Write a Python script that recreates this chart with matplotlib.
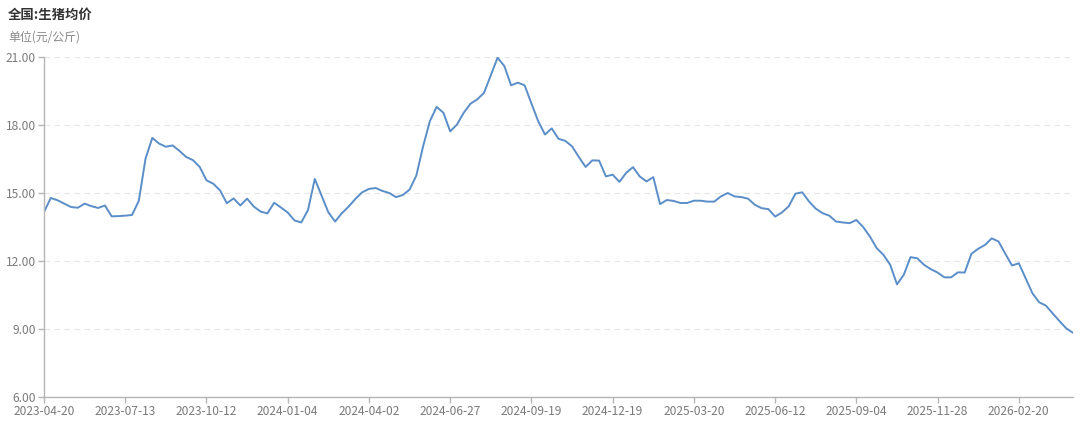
import matplotlib
matplotlib.use("Agg")
import matplotlib.pyplot as plt
from matplotlib.ticker import FixedLocator, FuncFormatter

plt.rcParams['font.family'] = ['Noto Sans CJK SC', 'DejaVu Sans']

title = "全国:生猪均价"
unit_label = "单位(元/公斤)"

tick_labels = ["2023-04-20", "2023-07-13", "2023-10-12", "2024-01-04",
               "2024-04-02", "2024-06-27", "2024-09-19", "2024-12-19",
               "2025-03-20", "2025-06-12", "2025-09-04", "2025-11-28",
               "2026-02-20"]
tick_step = 12

prices = [
    14.16, 14.78, 14.68, 14.53, 14.38, 14.35, 14.53, 14.42, 14.34, 14.45,
    13.97, 13.98, 14.00, 14.03, 14.65, 16.52, 17.43, 17.18, 17.04, 17.10,
    16.86, 16.59, 16.45, 16.15, 15.56, 15.41, 15.12, 14.55, 14.76, 14.45,
    14.75, 14.40, 14.18, 14.10, 14.57, 14.36, 14.14, 13.79, 13.70, 14.25,
    15.62, 14.88, 14.15, 13.74, 14.11, 14.40, 14.74, 15.03, 15.18, 15.22,
    15.09, 15.00, 14.82, 14.91, 15.15, 15.77, 17.06, 18.17, 18.80, 18.54,
    17.72, 18.02, 18.54, 18.94, 19.13, 19.42, 20.19, 20.97, 20.60, 19.75,
    19.87, 19.75, 18.95, 18.17, 17.58, 17.85, 17.39, 17.30, 17.06, 16.59,
    16.15, 16.44, 16.43, 15.73, 15.81, 15.49, 15.89, 16.14, 15.73, 15.51,
    15.70, 14.51, 14.69, 14.65, 14.56, 14.56, 14.66, 14.66, 14.62, 14.62,
    14.85, 15.00, 14.85, 14.82, 14.75, 14.48, 14.33, 14.29, 13.96, 14.14,
    14.41, 14.97, 15.03, 14.63, 14.31, 14.11, 14.00, 13.74, 13.70, 13.67,
    13.81, 13.50, 13.08, 12.57, 12.27, 11.83, 10.97, 11.39, 12.17, 12.12,
    11.83, 11.64, 11.49, 11.28, 11.28, 11.50, 11.49, 12.32, 12.54, 12.71,
    13.00, 12.86, 12.32, 11.80, 11.90, 11.24, 10.58, 10.18, 10.03, 9.69,
    9.35, 9.03, 8.83,
]

y_ticks = [6, 9, 12, 15, 18, 21]

fig = plt.figure(figsize=(10.8, 4.3), dpi=100)
ax = fig.add_axes([44 / 1080, 1 - 397 / 430, (1073 - 44) / 1080, (397 - 57) / 430])

x = list(range(len(prices)))
ax.plot(x, prices, color="#5b8ec8", linewidth=1.4, solid_joinstyle="round")

ax.set_xlim(0, len(prices) - 1)
ax.set_ylim(6, 21)

tick_pos = [i * tick_step for i in range(len(tick_labels))]
ax.xaxis.set_major_locator(FixedLocator(tick_pos))
ax.set_xticklabels(tick_labels)
ax.yaxis.set_major_locator(FixedLocator(y_ticks))
ax.yaxis.set_major_formatter(FuncFormatter(lambda v, p: f"{v:.2f}"))

axis_color = "#b5b5b5"
for side in ["top", "right"]:
    ax.spines[side].set_visible(False)
for side in ["left", "bottom"]:
    ax.spines[side].set_color(axis_color)
    ax.spines[side].set_linewidth(1.0)

ax.tick_params(axis="both", colors=axis_color, length=4, width=1.0,
               labelcolor="#7a7a7a", labelsize=8.6)
ax.tick_params(axis="x", pad=2)
ax.tick_params(axis="y", pad=2)

ax.grid(axis="y", color="#e6e6e6", linestyle=(0, (5, 4)), linewidth=0.8)
ax.set_axisbelow(True)

fig.text(8 / 1080, 1 - 15 / 430, title, fontsize=9.6, fontweight="bold",
         color="#333333", va="center", ha="left")
fig.text(8 / 1080, 1 - 37 / 430, unit_label, fontsize=8.6,
         color="#8a8a8a", va="center", ha="left")

fig.savefig("out.png", dpi=100, facecolor="white")
